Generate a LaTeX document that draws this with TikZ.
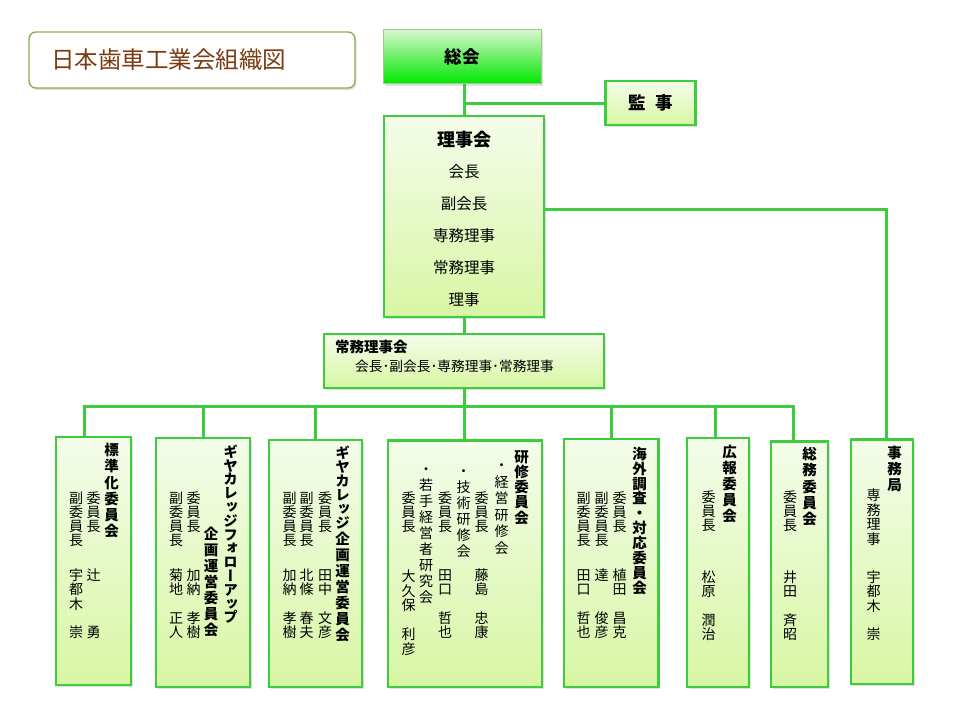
\documentclass[tikz,border=0pt]{standalone}
\usepackage{fontspec}
\setmainfont{Noto Sans CJK JP}
\newfontfamily\vfont[RawFeature=+vert]{Noto Sans CJK JP}
\usetikzlibrary{shadows,backgrounds}

\definecolor{lgreen}{RGB}{60,204,60}
\definecolor{fillTop}{RGB}{244,252,234}
\definecolor{fillBot}{RGB}{216,246,164}
\definecolor{titlebrown}{RGB}{122,60,18}
\definecolor{titleframe}{RGB}{140,176,80}
\definecolor{sokaiTop}{RGB}{216,246,208}
\definecolor{sokaiBot}{RGB}{0,232,0}
\definecolor{sokaiFrame}{RGB}{160,200,140}

\makeatletter
\newcommand\vtext[2]{\vbox{\baselineskip=#1\lineskiplimit=-\maxdimen\lineskip=0pt\vt@loop#2\relax}}
\def\vt@loop#1{\ifx\relax#1\else\vt@char{#1}\expandafter\vt@loop\fi}
\def\vt@char#1{\hbox to 1em{\hss\vrule height .88em depth .12em width 0pt\relax #1\hss}}
\makeatother

\tikzset{
  conn/.style={draw=lgreen, line width=3pt},
  shad/.style={drop shadow={shadow xshift=1.5pt, shadow yshift=-2pt, opacity=.25}},
  gbox/.style={draw=lgreen, line width=2.4pt, top color=fillTop, bottom color=fillBot,
               inner sep=0pt, outer sep=0pt, shad},
  lbl/.style={inner sep=0pt, text=black},
  hcol/.style={inner sep=0pt, anchor=north, yshift=7.25pt, font=\vfont\bfseries\fontsize{14.5}{16}\selectfont},
  rcol/.style={inner sep=0pt, anchor=north, yshift=7pt, font=\vfont\fontsize{14}{14}\selectfont},
  dcol/.style={inner sep=0pt, anchor=north, yshift=7pt, font=\vfont\fontsize{14}{15}\selectfont},
}

\begin{document}
\begin{tikzpicture}[x=1pt,y=-1pt]
\useasboundingbox (0,0) rectangle (960,720);

% ---------- title ----------
\node[draw=titleframe, line width=1.4pt, rounded corners=7pt, fill=white,
      minimum width=326pt, minimum height=56pt, shad] (titlebox) at (192,60) {};
\node[lbl, anchor=west, text=titlebrown, font=\fontsize{23.5}{28}\selectfont] (title) at (51,60) {日本歯車工業会組織図};

% ---------- top boxes ----------
\node[draw=sokaiFrame, line width=1pt, top color=sokaiTop, bottom color=sokaiBot,
      minimum width=158pt, minimum height=54pt, inner sep=0pt, shad] (sokai) at (462,56.5) {};
\node[lbl, font=\bfseries\fontsize{17.5}{20}\selectfont] (sokaiT) at (462,57) {総会};

\node[gbox, minimum width=90pt, minimum height=44pt] (kanji) at (650.5,103) {};
\node[lbl, font=\bfseries\fontsize{17.5}{20}\selectfont] (kanjiT) at (650.5,103) {監\hspace{.55em}事};

\node[gbox, minimum width=160pt, minimum height=201pt] (rijikai) at (464,216.5) {};
\node[lbl, font=\bfseries\fontsize{18}{20}\selectfont] (rj0) at (464,140) {理事会};
\node[lbl, font=\fontsize{15.5}{18}\selectfont] (rj1) at (464,172) {会長};
\node[lbl, font=\fontsize{15.5}{18}\selectfont] (rj2) at (464,204) {副会長};
\node[lbl, font=\fontsize{15.5}{18}\selectfont] (rj3) at (464,236) {専務理事};
\node[lbl, font=\fontsize{15.5}{18}\selectfont] (rj4) at (464,268) {常務理事};
\node[lbl, font=\fontsize{15.5}{18}\selectfont] (rj5) at (464,300) {理事};

\node[gbox, minimum width=280pt, minimum height=54pt] (jomu) at (464,361) {};
\node[lbl, anchor=west, font=\bfseries\fontsize{14.5}{16}\selectfont] (jm0) at (335,347) {常務理事会};
\node[lbl, anchor=west, font=\fontsize{13.7}{16}\selectfont] (jm1) at (355,366) {会長･副会長･専務理事･常務理事};

% ---------- bottom boxes ----------
\node[gbox, minimum width=75pt, minimum height=248pt] (b1) at (93.5,561) {};
\node[gbox, minimum width=94pt, minimum height=249pt] (b2) at (203,562.5) {};
\node[gbox, minimum width=93pt, minimum height=247pt] (b3) at (315.5,563.5) {};
\node[gbox, minimum width=154pt, minimum height=246.5pt] (b4) at (465,563.75) {};
\node[gbox, minimum width=94.5pt, minimum height=248pt] (b5) at (611.25,563) {};
\node[gbox, minimum width=62pt, minimum height=249pt] (b6) at (718,562.5) {};
\node[gbox, minimum width=57pt, minimum height=245.5pt] (b7) at (799.5,564.25) {};
\node[gbox, minimum width=62pt, minimum height=244.5pt] (b8) at (882,561.75) {};

% box 1
\node[hcol] (h1) at (111.5,450) {\vtext{16.2pt}{標準化委員会}};
\node[rcol] (r1a) at (93.5,497.5) {\vtext{14.1pt}{委員長}};
\node[rcol] (n1a) at (93.5,575) {\vtext{14.3pt}{辻　　　勇}};
\node[rcol] (r1b) at (76,497.5) {\vtext{14.1pt}{副委員長}};
\node[rcol] (n1b) at (76,575) {\vtext{14.3pt}{宇都木　崇}};

% box 2
\node[hcol] (h2a) at (230.5,451.5) {\vtext{13.8pt}{ギヤカレッジフォローアップ}};
\node[hcol] (h2b) at (211,533.5) {\vtext{16.1pt}{企画運営委員会}};
\node[rcol] (r2a) at (193.5,497.5) {\vtext{14.1pt}{委員長}};
\node[rcol] (n2a) at (193.5,575) {\vtext{14.3pt}{加納　孝樹}};
\node[rcol] (r2b) at (176,497.5) {\vtext{14.1pt}{副委員長}};
\node[rcol] (n2b) at (176,575) {\vtext{14.3pt}{菊地　正人}};

% box 3
\node[hcol] (h3a) at (342.5,452.5) {\vtext{14pt}{ギヤカレッジ}};
\node[hcol] (h3b) at (342.5,538.5) {\vtext{16pt}{企画運営委員会}};
\node[rcol] (r3a) at (325,497.5) {\vtext{14.1pt}{委員長}};
\node[rcol] (n3a) at (325,575) {\vtext{14.3pt}{田中　文彦}};
\node[rcol] (r3b) at (306.5,497.5) {\vtext{14.1pt}{副委員長}};
\node[rcol] (n3b) at (306.5,575) {\vtext{14.3pt}{北條　春夫}};
\node[rcol] (r3c) at (289.5,497.5) {\vtext{14.1pt}{副委員長}};
\node[rcol] (n3c) at (289.5,575) {\vtext{14.3pt}{加納　孝樹}};

% box 4
\node[hcol] (h4) at (521.5,456.5) {\vtext{15.25pt}{研修委員会}};
\node[dcol] (d4a) at (501.5,465) {\vtext{16.5pt}{・経営研修会}};
\node[rcol] (r4a) at (481.5,497.5) {\vtext{14.1pt}{委員長}};
\node[rcol] (n4a) at (481.5,575) {\vtext{14.3pt}{藤島　忠康}};
\node[dcol] (d4b) at (463.5,470.5) {\vtext{16pt}{・技術研修会}};
\node[rcol] (r4b) at (445,497.5) {\vtext{14.1pt}{委員長}};
\node[rcol] (n4b) at (445,575) {\vtext{14.3pt}{田口　哲也}};
\node[dcol] (d4c) at (426,469) {\vtext{16pt}{・若手経営者研究会}};
\node[rcol] (r4c) at (408.5,497.5) {\vtext{14.1pt}{委員長}};
\node[rcol] (n4c) at (408.5,576) {\vtext{14.6pt}{大久保　利彦}};

% box 5
\node[hcol] (h5) at (639.5,453.5) {\vtext{14.9pt}{海外調査・対応委員会}};
\node[rcol] (r5a) at (619.5,497.5) {\vtext{14.1pt}{委員長}};
\node[rcol] (n5a) at (619.5,575) {\vtext{14.3pt}{植田　昌克}};
\node[rcol] (r5b) at (601.5,497.5) {\vtext{14.1pt}{副委員長}};
\node[rcol] (n5b) at (601.5,575) {\vtext{14.3pt}{達　　俊彦}};
\node[rcol] (r5c) at (583.5,497.5) {\vtext{14.1pt}{副委員長}};
\node[rcol] (n5c) at (583.5,575) {\vtext{14.3pt}{田口　哲也}};

% box 6
\node[hcol] (h6) at (729.5,451.5) {\vtext{16.1pt}{広報委員会}};
\node[rcol] (r6) at (708.5,497) {\vtext{14.1pt}{委員長}};
\node[rcol] (n6) at (708.5,577) {\vtext{14.3pt}{松原　潤治}};

% box 7
\node[hcol] (h7) at (809.5,453.5) {\vtext{16.4pt}{総務委員会}};
\node[rcol] (r7) at (790,497) {\vtext{14.1pt}{委員長}};
\node[rcol] (n7) at (790,577) {\vtext{14.3pt}{井田　斉昭}};

% box 8
\node[hcol] (h8) at (894.5,452.5) {\vtext{16.2pt}{事務局}};
\node[rcol] (r8) at (873.5,495) {\vtext{14.7pt}{専務理事}};
\node[rcol] (n8) at (873.5,577) {\vtext{14.3pt}{宇都木　崇}};

% ---------- connectors ----------
\coordinate (bus) at ([yshift=-18pt]jomu.south);
\coordinate (t1) at ([xshift=-9.5pt]b1.north);
\coordinate (t6) at ([xshift=-3pt]b6.north);
\coordinate (t7) at ([xshift=-6.5pt]b7.north);
\coordinate (t8) at ([xshift=4pt]b8.north);
\begin{pgfonlayer}{background}
\fill[white] (0,0) rectangle (960,720);
\draw[conn] (rijikai.north |- sokai.south) -- (rijikai.north);
\draw[conn] (rijikai.north |- kanji.west) -- (kanji.west);
\draw[conn] (rijikai.south) -- (jomu.north);
\draw[conn] (jomu.south) -- (jomu.south |- b4.north);
\draw[conn] (t1) -- (t1 |- bus) -- (t7 |- bus) -- (t7);
\draw[conn] (b2.north) -- (b2.north |- bus);
\draw[conn] (b3.north) -- (b3.north |- bus);
\draw[conn] (b5.north) -- (b5.north |- bus);
\draw[conn] (t6) -- (t6 |- bus);
\draw[conn] ([yshift=7.5pt]rijikai.east) -| (t8);
\end{pgfonlayer}
\end{tikzpicture}
\end{document}
